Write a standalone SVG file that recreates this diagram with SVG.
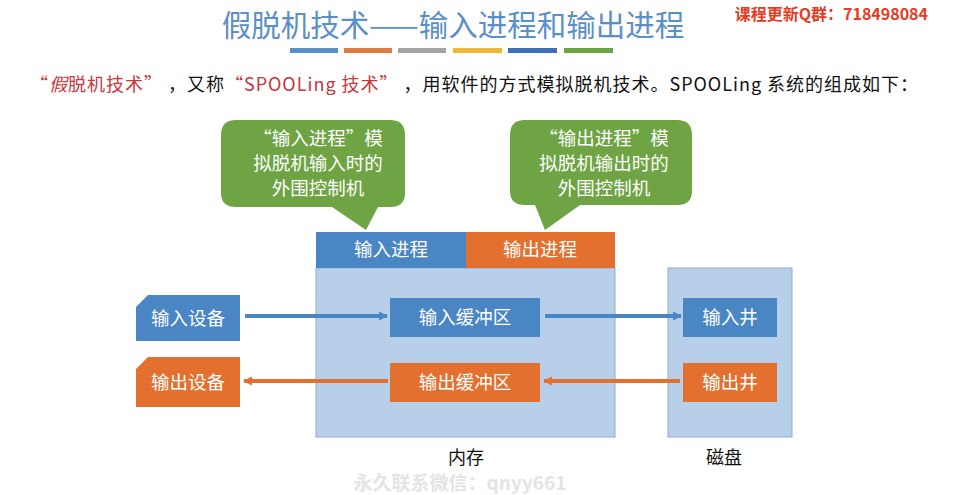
<svg xmlns="http://www.w3.org/2000/svg" width="958" height="495" viewBox="0 0 958 495">
<defs>
<style>
text{font-family:"Noto Sans CJK SC","Liberation Sans",sans-serif}
.wt{fill:#ffffff;font-size:18.5px;text-anchor:middle}
.bl{fill:#4a86c4}
.or{fill:#e4702f}
.gr{fill:#6ea443}
.lbl{fill:#111;font-size:18px;text-anchor:middle}
.bar{stroke:none}
</style>
<marker id="ab" viewBox="0 0 10 10" refX="9" refY="5" markerWidth="2.2" markerHeight="2.4" orient="auto" markerUnits="strokeWidth"><path d="M0,0 L10,5 L0,10 z" fill="#4a86c4"/></marker>
<marker id="ao" viewBox="0 0 10 10" refX="9" refY="5" markerWidth="2.2" markerHeight="2.4" orient="auto" markerUnits="strokeWidth"><path d="M0,0 L10,5 L0,10 z" fill="#e4702f"/></marker>
</defs>
<rect width="958" height="495" fill="#ffffff"/>
<text x="453" y="36" font-size="29.5" fill="#5a8fc8" text-anchor="middle">假脱机技术——输入进程和输出进程</text>
<text x="928" y="20" font-size="16" font-weight="bold" fill="#e63a22" text-anchor="end">课程更新Q群：718498084</text>
<g class="bar">
<rect x="290" y="48" width="48" height="5" fill="#5b8fc7"/>
<rect x="344" y="48" width="48" height="5" fill="#e07b40"/>
<rect x="398" y="48" width="48" height="5" fill="#a5a5a5"/>
<rect x="453" y="48" width="49" height="5" fill="#f2b534"/>
<rect x="508" y="48" width="49" height="5" fill="#3f6fb8"/>
<rect x="564" y="48" width="49" height="5" fill="#6ca445"/>
</g>
<text x="30" y="91" font-size="18" fill="#111" textLength="888" lengthAdjust="spacing"><tspan fill="#c8363e">“<tspan font-style="italic">假</tspan>脱机技术”</tspan> ，又称<tspan fill="#c8363e">“SPOOLing 技术”</tspan> ，用软件的方式模拟脱机技术。SPOOLing 系统的组成如下：</text>

<g id="callout-in">
<path d="M236,120 H390 Q405,120 405,135 V193 Q405,207 390,207 H378 L366,230 L332,207 H236 Q221,207 221,193 V135 Q221,120 236,120 Z" class="gr"/>
<text class="wt" x="318" y="145">“输入进程”模</text>
<text class="wt" x="318" y="170">拟脱机输入时的</text>
<text class="wt" x="318" y="195">外围控制机</text>
</g>
<g id="callout-out">
<path d="M525,120 H677 Q692,120 692,135 V191 Q692,205 677,205 H580 L545,230 L535,205 H525 Q510,205 510,191 V135 Q510,120 525,120 Z" class="gr"/>
<text class="wt" x="604" y="145">“输出进程”模</text>
<text class="wt" x="604" y="170">拟脱机输出时的</text>
<text class="wt" x="604" y="195">外围控制机</text>
</g>

<g id="memory">
<rect x="316" y="268" width="299" height="169" fill="#b7cfe9" stroke="#8fabd1" stroke-width="1"/>
<text class="lbl" x="466" y="464">内存</text>
</g>
<g id="disk">
<rect x="668" y="268" width="124" height="169" fill="#b7cfe9" stroke="#8fabd1" stroke-width="1"/>
<text class="lbl" x="724" y="464">磁盘</text>
</g>
<g id="proc-in">
<rect x="316" y="232" width="150" height="36" class="bl"/>
<text class="wt" x="391" y="256">输入进程</text>
</g>
<g id="proc-out">
<rect x="466" y="232" width="149" height="36" class="or"/>
<text class="wt" x="540" y="256">输出进程</text>
</g>
<g id="dev-in">
<path d="M148,295 H240 V341 H136 V307 Z" class="bl"/>
<text class="wt" x="188" y="325">输入设备</text>
</g>
<g id="dev-out">
<path d="M148,357 H240 V407 H136 V369 Z" class="or"/>
<text class="wt" x="188" y="389">输出设备</text>
</g>
<g id="buf-in">
<rect x="390" y="298" width="150" height="39" class="bl"/>
<text class="wt" x="465" y="324">输入缓冲区</text>
</g>
<g id="buf-out">
<rect x="390" y="363" width="150" height="39" class="or"/>
<text class="wt" x="465" y="389">输出缓冲区</text>
</g>
<g id="well-in">
<rect x="683" y="298" width="94" height="39" class="bl"/>
<text class="wt" x="730" y="324">输入井</text>
</g>
<g id="well-out">
<rect x="683" y="363" width="94" height="39" class="or"/>
<text class="wt" x="730" y="389">输出井</text>
</g>

<g id="connectors" fill="none" stroke-width="4">
<line x1="245" y1="316" x2="387" y2="316" stroke="#4a86c4" marker-end="url(#ab)"/>
<line x1="545" y1="316" x2="681" y2="316" stroke="#4a86c4" marker-end="url(#ab)"/>
<line x1="680" y1="381" x2="544" y2="381" stroke="#e4702f" marker-end="url(#ao)"/>
<line x1="388" y1="381" x2="244" y2="381" stroke="#e4702f" marker-end="url(#ao)"/>
</g>
<text x="460" y="490" font-size="19" font-weight="bold" fill="#e4e4e4" text-anchor="middle">永久联系微信：qnyy661</text>
</svg>
